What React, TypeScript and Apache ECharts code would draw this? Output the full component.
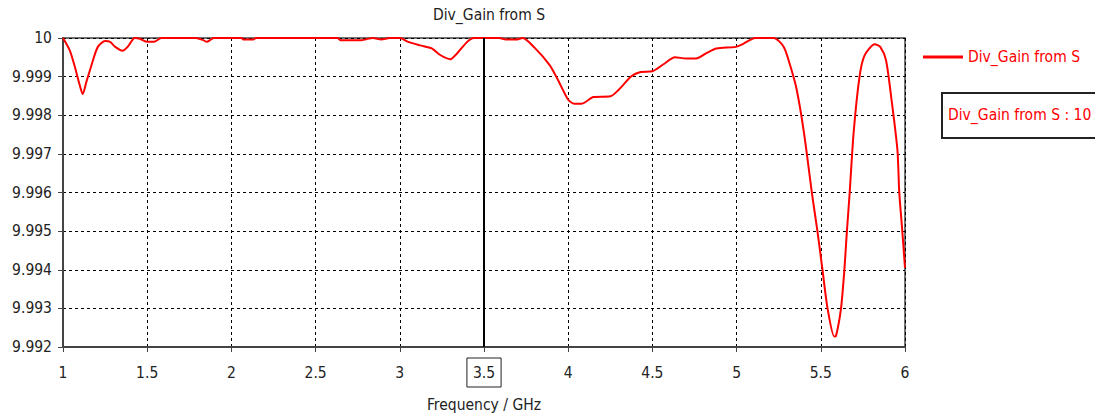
import React, { useEffect, useRef } from "react";
import * as echarts from "echarts";

const freq = [1, 1.04, 1.07, 1.095, 1.117, 1.14, 1.175, 1.207, 1.25, 1.28, 1.31, 1.353, 1.384, 1.426, 1.457, 1.5, 1.54, 1.583, 1.79, 1.83, 1.854, 1.875, 1.896, 2.06, 2.07, 2.13, 2.146, 2.63, 2.65, 2.77, 2.8, 2.84, 2.89, 2.94, 3.0, 3.05, 3.12, 3.19, 3.24, 3.3, 3.34, 3.4, 3.44, 3.59, 3.63, 3.69, 3.73, 3.8, 3.89, 3.935, 4.0, 4.036, 4.08, 4.15, 4.25, 4.3, 4.375, 4.43, 4.5, 4.566, 4.634, 4.7, 4.76, 4.826, 4.88, 4.995, 5.04, 5.11, 5.22, 5.28, 5.32, 5.357, 5.4, 5.45, 5.48, 5.51, 5.54, 5.58, 5.59, 5.62, 5.64, 5.655, 5.67, 5.695, 5.73, 5.76, 5.82, 5.853, 5.887, 5.92, 5.955, 5.966, 5.984, 6.0];

const gain = [10, 9.99968, 9.99926, 9.99885, 9.99855, 9.99888, 9.99938, 9.99977, 9.99992, 9.9999, 9.99977, 9.99967, 9.99977, 10, 9.99998, 9.9999, 9.9999, 10, 10, 9.99995, 9.9999, 9.99995, 10, 10, 9.99996, 9.99996, 10, 10, 9.99994, 9.99994, 9.99997, 10, 9.99996, 10, 10, 9.9999, 9.99981, 9.99973, 9.99956, 9.99945, 9.9996, 9.9999, 10, 10, 9.99996, 9.99996, 10, 9.99975, 9.9993, 9.99895, 9.9984, 9.9983, 9.9983, 9.99847, 9.99849, 9.99866, 9.99901, 9.99912, 9.99914, 9.99932, 9.9995, 9.99947, 9.99947, 9.99962, 9.99973, 9.99977, 9.99985, 10, 10, 9.99977, 9.99926, 9.99866, 9.99755, 9.9959, 9.995, 9.994, 9.993, 9.99227, 9.99228, 9.993, 9.994, 9.995, 9.9959, 9.99755, 9.999, 9.99955, 9.99984, 9.99977, 9.99943, 9.9984, 9.9971, 9.996, 9.995, 9.99405];

const seriesName = "Div_Gain from S";
const markerFreq = 3.5;
const markerText = "Div_Gain from S : 10";
const xTicks = [1, 1.5, 2, 2.5, 3, 3.5, 4, 4.5, 5, 5.5, 6];

const FONT = '"DejaVu Sans Condensed", "DejaVu Sans", sans-serif';
const FS = 15.5;

export default function App() {
  const ref = useRef<HTMLDivElement>(null);
  useEffect(() => {
    if (!ref.current) return;
    const chart = echarts.init(ref.current, undefined, { renderer: "svg" });
    const data = freq.map((f, i) => [f, gain[i]]);
    chart.setOption({
      animation: false,
      backgroundColor: "#ffffff",
      title: {
        text: seriesName,
        left: 484,
        textAlign: "center",
        top: 2,
        textStyle: { fontFamily: FONT, fontSize: FS, fontWeight: "normal", color: "#222" },
      },
      legend: {
        left: 923,
        top: 49,
        padding: 0,
        icon: "rect",
        itemWidth: 40,
        itemHeight: 3,
        textStyle: { fontFamily: FONT, fontSize: FS, color: "#ff0000" },
        data: [seriesName],
      },
      grid: {
        left: 63,
        right: 190,
        top: 38,
        bottom: 71,
        show: true,
        borderColor: "#444",
        borderWidth: 1.5,
        backgroundColor: "transparent",
      },
      xAxis: {
        type: "value",
        min: 1,
        max: 6,
        interval: 0.5,
        name: "Frequency / GHz",
        nameLocation: "middle",
        nameGap: 50,
        nameTextStyle: { fontFamily: FONT, fontSize: FS, color: "#222" },
        axisLine: { show: true, lineStyle: { color: "#444", width: 2 } },
        axisTick: { show: true, length: 5, lineStyle: { color: "#444" } },
        axisLabel: {
          margin: 11,
          fontFamily: FONT,
          fontSize: FS,
          color: "#222",
          formatter: (v: number) => {
            const t = xTicks.find((x) => Math.abs(x - v) < 1e-6);
            const s = String(t ?? v);
            return Math.abs(v - markerFreq) < 1e-6 ? "{box|" + s + "}" : "{plain|" + s + "}";
          },
          rich: {
            box: {
              fontFamily: FONT,
              fontSize: FS,
              color: "#222",
              borderColor: "#222",
              borderWidth: 1,
              padding: [7, 6, 6, 6],
            },
            plain: {
              fontFamily: FONT,
              fontSize: FS,
              color: "#222",
              padding: [7, 6, 6, 6],
            },
          },
        },
        splitLine: { show: true, lineStyle: { color: "#000", type: [3, 3], width: 1 } },
      },
      yAxis: {
        type: "value",
        min: 9.992,
        max: 10,
        interval: 0.001,
        axisLine: { show: true, lineStyle: { color: "#444", width: 2 } },
        axisTick: { show: true, length: 5, lineStyle: { color: "#444" } },
        axisLabel: {
          margin: 11,
          fontFamily: FONT,
          fontSize: FS,
          color: "#222",
          formatter: (v: number) => {
            const r = Math.round(v * 1000) / 1000;
            return r >= 10 ? "10" : r.toFixed(3);
          },
        },
        splitLine: { show: true, lineStyle: { color: "#000", type: [3, 3], width: 1 } },
      },
      series: [
        {
          name: seriesName,
          type: "line",
          data,
          showSymbol: false,
          smooth: 0.25,
          color: "#ff0000",
          lineStyle: { color: "#ff0000", width: 2 },
          markLine: {
            silent: true,
            symbol: "none",
            label: { show: false },
            lineStyle: { color: "#000", type: "solid", width: 2 },
            data: [{ xAxis: markerFreq }],
          },
        },
      ],
      graphic: [
        {
          type: "group",
          left: 941,
          top: 92,
          children: [
            {
              type: "rect",
              shape: { x: 0, y: 0, width: 170, height: 45 },
              style: { fill: "#fff", stroke: "#222", lineWidth: 2 },
            },
            {
              type: "text",
              x: 6,
              y: 22,
              style: {
                text: markerText,
                fill: "#ff0000",
                font: FS + "px " + FONT,
                verticalAlign: "middle",
              },
            },
          ],
        },
      ],
    });
    return () => chart.dispose();
  }, []);
  return <div ref={ref} style={{ width: 1095, height: 418, position: "absolute", left: 0, top: 0 }} />;
}
